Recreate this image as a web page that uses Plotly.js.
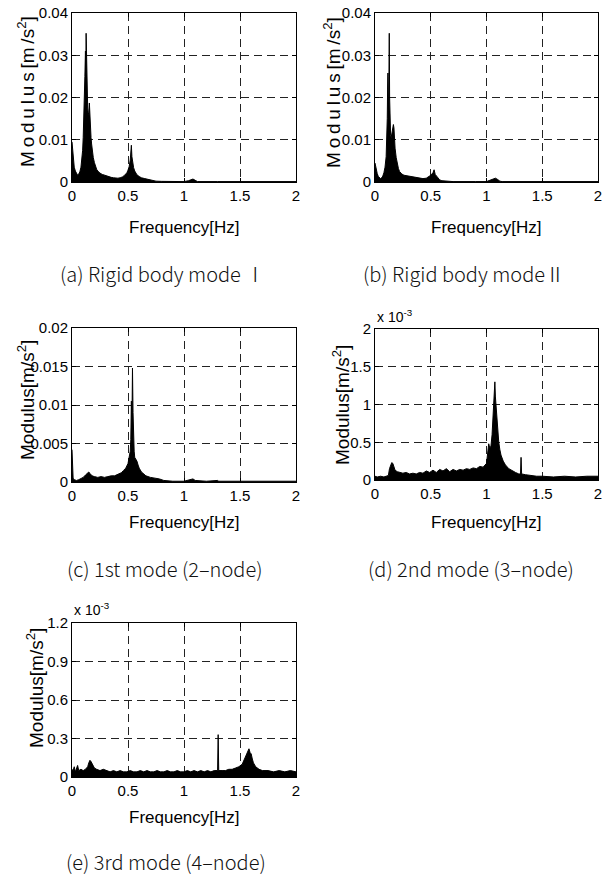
<!DOCTYPE html>
<html>
<head>
<meta charset="utf-8">
<script src="https://cdn.plot.ly/plotly-3.0.1.min.js"></script>
<style>html,body{margin:0;padding:0;background:#fff;}#chart{width:602px;height:876px;}</style>
</head>
<body>
<div id="chart"></div>
<script>
// ---------- data ----------
const xTickVals = [0, 0.5, 1, 1.5, 2];
const xTickText = ['0', '0.5', '1', '1.5', '2'];

// (a) Rigid body mode I  [m/s^2]
const freqA = [0,0.005,0.01,0.015,0.02,0.03,0.04,0.05,0.06,0.07,0.08,0.09,0.095,0.10,0.105,0.11,0.115,0.12,0.123,0.126,0.129,0.132,0.135,0.14,0.145,0.15,0.155,0.16,0.165,0.17,0.175,0.18,0.19,0.20,0.21,0.22,0.23,0.24,0.25,0.27,0.29,0.31,0.33,0.35,0.37,0.39,0.41,0.43,0.45,0.47,0.49,0.50,0.51,0.52,0.525,0.53,0.535,0.54,0.55,0.56,0.57,0.58,0.60,0.62,0.65,0.68,0.70,0.72,0.75,0.80,0.90,1.00,1.04,1.06,1.08,1.10,1.12,1.30,1.50,1.70,2.00];
const modA  = [0.0095,0.0082,0.0060,0.0045,0.0035,0.0026,0.0020,0.0016,0.0019,0.0024,0.0035,0.0055,0.0075,0.0105,0.0140,0.0185,0.0250,0.0310,0.0260,0.0352,0.0280,0.0220,0.0195,0.0175,0.0160,0.0165,0.0187,0.0140,0.0125,0.0105,0.0090,0.0075,0.0058,0.0046,0.0036,0.0030,0.0026,0.0023,0.0021,0.0018,0.0016,0.0014,0.0013,0.0011,0.0010,0.0009,0.0009,0.0010,0.0012,0.0016,0.0022,0.0028,0.0036,0.0052,0.0068,0.0087,0.0060,0.0045,0.0034,0.0026,0.0021,0.0017,0.0013,0.0010,0.0008,0.0006,0.0004,0.0003,0.0002,0.00015,0.0001,0.0001,0.0003,0.0006,0.0007,0.0004,0.0001,0.0001,0.0001,0.0001,0.0001];

// (b) Rigid body mode II  [m/s^2]
const freqB = [0,0.005,0.01,0.02,0.03,0.04,0.05,0.06,0.07,0.08,0.09,0.10,0.105,0.11,0.113,0.116,0.119,0.122,0.125,0.128,0.131,0.134,0.14,0.145,0.15,0.155,0.16,0.165,0.17,0.175,0.18,0.19,0.20,0.21,0.22,0.24,0.26,0.28,0.30,0.33,0.36,0.40,0.43,0.46,0.48,0.50,0.52,0.53,0.54,0.56,0.58,0.60,0.65,0.70,0.90,1.00,1.03,1.06,1.08,1.10,1.12,1.14,1.50,2.00];
const modB  = [0.0045,0.0038,0.0030,0.0020,0.0013,0.0009,0.0008,0.0010,0.0014,0.0022,0.0035,0.0060,0.0090,0.0150,0.0220,0.0258,0.0200,0.0160,0.0250,0.0352,0.0200,0.0140,0.0110,0.0105,0.0112,0.0120,0.0132,0.0136,0.0128,0.0100,0.0080,0.0058,0.0042,0.0032,0.0025,0.0019,0.0016,0.0015,0.0013,0.0012,0.0011,0.0009,0.0008,0.0009,0.0012,0.0016,0.0022,0.0029,0.0018,0.0010,0.0005,0.0003,0.0002,0.0001,0.0001,0.0001,0.0004,0.0007,0.0009,0.0006,0.0002,0.0001,0.0001,0.0001];

// (c) 1st mode (2-node)  [m/s^2]
const freqC = [0,0.005,0.01,0.02,0.04,0.06,0.08,0.10,0.12,0.14,0.15,0.16,0.18,0.20,0.23,0.26,0.29,0.32,0.35,0.38,0.41,0.44,0.46,0.48,0.50,0.51,0.52,0.525,0.53,0.535,0.54,0.545,0.55,0.555,0.56,0.57,0.58,0.59,0.60,0.62,0.64,0.66,0.70,0.74,0.78,0.82,0.90,1.00,1.05,1.08,1.10,1.20,1.30,1.31,1.50,1.62,2.00];
const modC  = [0.0042,0.0015,0.0005,0.0003,0.0002,0.0003,0.0004,0.0006,0.0009,0.0012,0.0013,0.0011,0.0008,0.0007,0.0006,0.0007,0.0006,0.0007,0.0008,0.0008,0.0010,0.0012,0.0015,0.0018,0.0024,0.0030,0.0040,0.0055,0.0105,0.0070,0.0148,0.0090,0.0055,0.0040,0.0032,0.0030,0.0027,0.0022,0.0018,0.0013,0.0010,0.0008,0.0006,0.0005,0.0004,0.0002,0.0001,0.0001,0.0003,0.0004,0.0002,0.0001,0.0002,0.0001,0.0001,0.0001,0.0001];

// (d) 2nd mode (3-node)  [x 10^-3 m/s^2]
const freqD = [0,0.02,0.05,0.08,0.10,0.12,0.13,0.14,0.15,0.16,0.17,0.18,0.20,0.22,0.25,0.28,0.31,0.34,0.37,0.40,0.43,0.46,0.49,0.52,0.55,0.58,0.61,0.64,0.67,0.70,0.73,0.76,0.79,0.82,0.85,0.88,0.91,0.94,0.97,1.00,1.01,1.02,1.03,1.04,1.05,1.06,1.07,1.075,1.08,1.085,1.09,1.10,1.11,1.12,1.13,1.15,1.17,1.20,1.23,1.26,1.29,1.305,1.31,1.315,1.35,1.40,1.45,1.50,1.60,1.70,1.80,1.90,2.00];
const modD  = [0.05,0.04,0.05,0.04,0.05,0.06,0.15,0.20,0.23,0.22,0.17,0.13,0.11,0.10,0.09,0.10,0.08,0.09,0.08,0.10,0.09,0.12,0.10,0.13,0.10,0.14,0.12,0.15,0.11,0.14,0.12,0.14,0.13,0.15,0.14,0.16,0.15,0.18,0.17,0.22,0.40,0.48,0.42,0.45,0.60,0.85,1.05,1.30,1.10,1.00,0.90,0.65,0.50,0.40,0.33,0.25,0.20,0.15,0.12,0.10,0.08,0.08,0.30,0.08,0.07,0.06,0.05,0.05,0.04,0.05,0.04,0.05,0.05];

// (e) 3rd mode (4-node)  [x 10^-3 m/s^2]
const freqE = [0,0.01,0.02,0.03,0.05,0.06,0.08,0.10,0.12,0.14,0.15,0.16,0.17,0.18,0.19,0.20,0.22,0.25,0.28,0.31,0.34,0.37,0.40,0.43,0.46,0.49,0.52,0.55,0.58,0.61,0.64,0.67,0.70,0.73,0.76,0.79,0.82,0.85,0.88,0.91,0.94,0.97,1.00,1.03,1.06,1.09,1.12,1.15,1.18,1.21,1.24,1.27,1.30,1.305,1.31,1.34,1.37,1.40,1.43,1.46,1.49,1.52,1.54,1.56,1.57,1.58,1.59,1.60,1.61,1.62,1.64,1.67,1.70,1.75,1.80,1.85,1.90,1.95,2.00];
const modE  = [0.06,0.05,0.08,0.04,0.09,0.05,0.06,0.05,0.06,0.08,0.11,0.13,0.12,0.10,0.08,0.07,0.06,0.05,0.06,0.05,0.04,0.05,0.04,0.05,0.04,0.04,0.05,0.04,0.04,0.05,0.04,0.05,0.04,0.04,0.05,0.04,0.04,0.05,0.04,0.04,0.05,0.04,0.04,0.05,0.04,0.05,0.04,0.05,0.04,0.05,0.04,0.05,0.05,0.33,0.05,0.05,0.05,0.06,0.06,0.07,0.08,0.10,0.14,0.17,0.20,0.22,0.19,0.18,0.14,0.11,0.08,0.06,0.05,0.05,0.04,0.05,0.04,0.05,0.04];

const yTicksA = [0, 0.01, 0.02, 0.03, 0.04];
const yTicksC = [0, 0.005, 0.01, 0.015, 0.02];
const yTicksD = [0, 0.5, 1, 1.5, 2];
const yTicksE = [0, 0.3, 0.6, 0.9, 1.2];
const yTextA = ['0', '0.01', '0.02', '0.03', '0.04'];
const yTextC = ['0', '0.005', '0.01', '0.015', '0.02'];
const yTextD = ['0', '0.5', '1', '1.5', '2'];
const yTextE = ['0', '0.3', '0.6', '0.9', '1.2'];

const captions = ['(a) Rigid body mode Ⅰ', '(b) Rigid body modeⅡ', '(c) 1st mode (2\u2013node)', '(d) 2nd mode (3\u2013node)', '(e) 3rd mode (4\u2013node)'];

// ---------- layout helpers ----------
const W = 602, H = 876;
const px = v => v / W;
const py = v => 1 - v / H;
const TICKFONT = {family: 'Liberation Sans, Arial, sans-serif', size: 15, color: '#000'};
const XTFONT = {family: 'Liberation Sans, Arial, sans-serif', size: 17, weight: 'normal', color: '#000'};
const YTFONT = {family: 'Liberation Sans, Arial, sans-serif', size: 19, weight: 'normal', color: '#000'};
const CAPFONT = {family: 'Noto Sans CJK KR, Noto Sans, sans-serif', size: 20, weight: 300, color: '#111'};

function xax(l, r, anchor) {
  return {domain: [px(l), px(r)], anchor: anchor, range: [0, 2], tickmode: 'array',
    tickvals: xTickVals, ticktext: xTickText, ticks: 'inside', ticklen: 4, tickcolor: '#000',
    showline: true, linecolor: '#000', linewidth: 1, mirror: 'ticks', zeroline: false,
    showgrid: true, gridcolor: '#222', gridwidth: 1, griddash: '8px,5px',
    ticklabeloverflow: 'allow', tickfont: TICKFONT, fixedrange: true};
}
function yax(t, b, anchor, range, vals, text) {
  return {domain: [py(b), py(t)], anchor: anchor, range: range, tickmode: 'array',
    tickvals: vals, ticktext: text, ticks: 'inside', ticklen: 4, tickcolor: '#000',
    showline: true, linecolor: '#000', linewidth: 1, mirror: 'ticks', zeroline: false,
    showgrid: true, gridcolor: '#222', gridwidth: 1, griddash: '8px,5px',
    ticklabeloverflow: 'allow', tickfont: TICKFONT, fixedrange: true};
}
function tr(x, y, n) {
  return {x: x, y: y, xaxis: 'x' + n, yaxis: 'y' + n, type: 'scatter', mode: 'lines',
    fill: 'tozeroy', fillcolor: '#000', line: {color: '#000', width: 1}, hoverinfo: 'skip'};
}

const traces = [
  tr(freqA, modA, ''), tr(freqB, modB, '2'), tr(freqC, modC, '3'), tr(freqD, modD, '4'), tr(freqE, modE, '5')
];

function ann(text, x, y, font, extra) {
  return Object.assign({text: text, xref: 'paper', yref: 'paper', x: px(x), y: py(y),
    xanchor: 'center', yanchor: 'middle', showarrow: false, font: font}, extra || {});
}
const ytitleTop = 'M\u2009o\u2009d\u2009u\u2009l\u2009u\u2009s\u2009[m\u2009/s<sup>2</sup>]';
const ytitle = 'Modulus[m/s<sup>2</sup>]';
const annotations = [
  ann('Frequency[Hz]', 184, 227, XTFONT), ann('Frequency[Hz]', 486, 227, XTFONT),
  ann('Frequency[Hz]', 184, 522, XTFONT), ann('Frequency[Hz]', 486, 522, XTFONT),
  ann('Frequency[Hz]', 184, 817, XTFONT),
  ann(ytitleTop, 26, 92, YTFONT, {textangle: -90}), ann(ytitleTop, 332, 92, YTFONT, {textangle: -90}),
  ann(ytitle, 26, 400, YTFONT, {textangle: -90}), ann(ytitle, 341, 405, YTFONT, {textangle: -90}),
  ann(ytitle, 35, 688, YTFONT, {textangle: -90}),
  ann('x 10<sup>-3</sup>', 375, 316, {family: 'Liberation Sans, Arial', size: 14, color: '#000'}, {xanchor: 'left'}),
  ann('x 10<sup>-3</sup>', 72, 609, {family: 'Liberation Sans, Arial', size: 14, color: '#000'}, {xanchor: 'left'}),
  ann(captions[0], 162, 273, CAPFONT), ann(captions[1], 464, 273, CAPFONT),
  ann(captions[2], 165, 568, CAPFONT), ann(captions[3], 471, 568, CAPFONT),
  ann(captions[4], 166, 861, CAPFONT)
];

const layout = {
  width: W, height: H, margin: {l: 0, r: 0, t: 0, b: 0}, paper_bgcolor: '#fff', plot_bgcolor: '#fff',
  showlegend: false,
  xaxis: xax(72, 296, 'y'), yaxis: yax(13, 182, 'x', [0, 0.04], yTicksA, yTextA),
  xaxis2: xax(375, 598, 'y2'), yaxis2: yax(13, 182, 'x2', [0, 0.04], yTicksA, yTextA),
  xaxis3: xax(72, 296, 'y3'), yaxis3: yax(328, 482, 'x3', [0, 0.02], yTicksC, yTextC),
  xaxis4: xax(375, 598, 'y4'), yaxis4: yax(329, 480, 'x4', [0, 2], yTicksD, yTextD),
  xaxis5: xax(72, 296, 'y5'), yaxis5: yax(623, 777, 'x5', [0, 1.2], yTicksE, yTextE),
  annotations: annotations
};

Plotly.newPlot('chart', traces, layout, {staticPlot: true, displayModeBar: false});
</script>
</body>
</html>
